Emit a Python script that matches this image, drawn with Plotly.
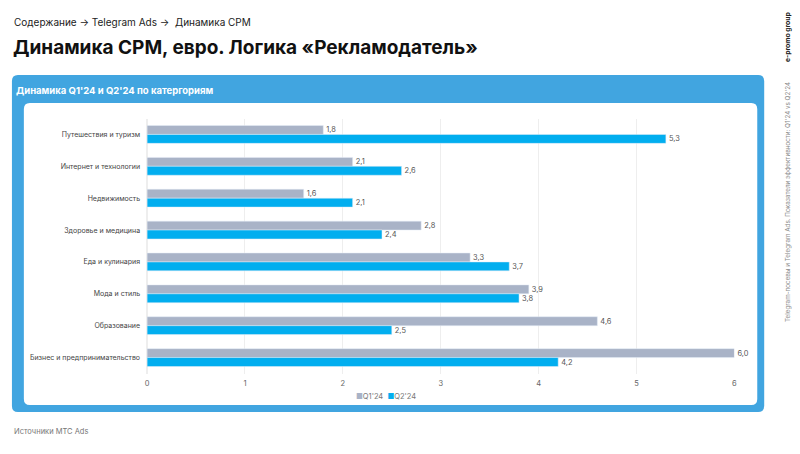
import plotly.graph_objects as go

categories = ["Путешествия и туризм", "Интернет и технологии", "Недвижимость",
              "Здоровье и медицина", "Еда и кулинария", "Мода и стиль",
              "Образование", "Бизнес и предпринимательство"]
q1_values = [1.8, 2.1, 1.6, 2.8, 3.3, 3.9, 4.6, 6.0]
q2_values = [5.3, 2.6, 2.1, 2.4, 3.7, 3.8, 2.5, 4.2]
series_names = ["Q1'24", "Q2'24"]
series_colors = ["#A9B3C7", "#02AEEF"]
x_ticks = [0, 1, 2, 3, 4, 5, 6]

W, H = 800, 454
FONT = "Inter, Roboto, sans-serif"


def px(x):
    return x / W


def py(y):
    return 1 - y / H


def rrect(x0, y0, x1, y1, r):
    pts = [
        f"M{px(x0 + r)},{py(y0)}",
        f"L{px(x1 - r)},{py(y0)}",
        f"Q{px(x1)},{py(y0)} {px(x1)},{py(y0 + r)}",
        f"L{px(x1)},{py(y1 - r)}",
        f"Q{px(x1)},{py(y1)} {px(x1 - r)},{py(y1)}",
        f"L{px(x0 + r)},{py(y1)}",
        f"Q{px(x0)},{py(y1)} {px(x0)},{py(y1 - r)}",
        f"L{px(x0)},{py(y0 + r)}",
        f"Q{px(x0)},{py(y0)} {px(x0 + r)},{py(y0)}",
        "Z",
    ]
    return " ".join(pts)


fig = go.Figure()
for name, vals, col in zip(series_names, [q1_values, q2_values], series_colors):
    fig.add_trace(go.Bar(
        y=categories, x=vals, name=name, orientation="h",
        marker=dict(color=col),
        texttemplate="%{x:.1f}", textposition="outside", cliponaxis=False,
        textfont=dict(size=7.5, color="#555555", family=FONT),
        showlegend=False,
    ))

shapes = [
    dict(type="path", xref="paper", yref="paper", path=rrect(10, 75, 767, 412, 6),
         fillcolor="#41A5E0", line=dict(width=0), layer="below"),
    dict(type="path", xref="paper", yref="paper", path=rrect(22, 103, 760, 405, 6),
         fillcolor="#FFFFFF", line=dict(width=0), layer="below"),
]

legend_text = (f"<span style='color:{series_colors[0]}'>■</span>{series_names[0]}  "
               f"<span style='color:{series_colors[1]}'>■</span>{series_names[1]}")

annotations = [
    dict(text="Содержание → Telegram Ads →  Динамика CPM", x=px(10), y=py(22),
         font=dict(size=10, color="#222222", family=FONT)),
    dict(text="<b>Динамика CPM, евро. Логика «Рекламодатель»</b>", x=px(9), y=py(47),
         font=dict(size=19, color="#111111", family=FONT)),
    dict(text="<b>Динамика Q1'24 и Q2'24 по катергориям</b>", x=px(12), y=py(90),
         font=dict(size=9.5, color="#FFFFFF", family=FONT)),
    dict(text="Источники МТС Ads", x=px(10), y=py(431),
         font=dict(size=7.5, color="#777777", family=FONT)),
]
for a in annotations:
    a.update(xref="paper", yref="paper", xanchor="left", yanchor="middle", showarrow=False)

annotations += [
    dict(text=legend_text, x=px(386), y=py(396), xref="paper", yref="paper",
         showarrow=False, xanchor="center", yanchor="middle",
         font=dict(size=7.5, color="#777777", family=FONT)),
    dict(text="<b>e-promo group</b>", x=px(791), y=py(37), xref="paper", yref="paper",
         textangle=-90, showarrow=False, xanchor="center", yanchor="middle",
         font=dict(size=6.8, color="#222222", family=FONT)),
    dict(text="Telegram-посевы и Telegram Ads. Показатели эффективности: Q1'24 vs Q2'24",
         x=px(791), y=py(202), xref="paper", yref="paper",
         textangle=-90, showarrow=False, xanchor="center", yanchor="middle",
         font=dict(size=6.3, color="#888888", family=FONT)),
]

fig.update_layout(
    width=W, height=H,
    margin=dict(l=0, r=0, t=0, b=0),
    paper_bgcolor="#FFFFFF", plot_bgcolor="rgba(0,0,0,0)",
    separators=", ",
    barmode="group", bargap=0.44, bargroupgap=0,
    font=dict(family=FONT),
    shapes=shapes, annotations=annotations,
    showlegend=False,
    xaxis=dict(domain=[px(146), px(737)], range=[0, 6], tickvals=x_ticks,
               showgrid=True, gridcolor="#EEEEEE", gridwidth=1,
               zeroline=True, zerolinecolor="#EEEEEE", showline=False,
               tickfont=dict(size=7.5, color="#666666", family=FONT), ticks="",
               ticklabelstandoff=4, fixedrange=True),
    yaxis=dict(domain=[py(373.5), py(118.5)], autorange="reversed",
               showgrid=False, showline=False, ticks="",
               tickfont=dict(size=7, color="#444444", family=FONT),
               ticklabelstandoff=6, fixedrange=True),
)

fig.write_html("out.html", config={"displayModeBar": False},
               post_script="document.body.style.margin='0';document.body.style.overflow='hidden';")
